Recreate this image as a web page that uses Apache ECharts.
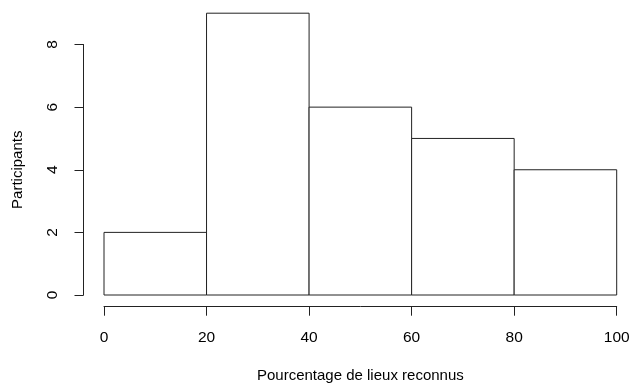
<!DOCTYPE html>
<html><head><meta charset="utf-8">
<script src="https://cdn.jsdelivr.net/npm/echarts@6/dist/echarts.min.js"></script>
<style>html,body{margin:0;padding:0;background:#fff}#c{width:631px;height:383px}</style>
</head><body><div id="c"></div>
<script>
const binEdges = [0, 20, 40, 60, 80, 100];
const counts = [2, 9, 6, 5, 4];
const xTicks = [0, 20, 40, 60, 80, 100];
const yTicks = [0, 2, 4, 6, 8];
const xTitle = 'Pourcentage de lieux reconnus';
const yTitle = 'Participants';

const rects = counts.map((c, i) => [binEdges[i], binEdges[i + 1], c]);
const font = 'Liberation Sans, Arial, sans-serif';
const ink = '#222';
const fs = 15.5;
const fsTitle = 15;
const nb = {containLabel: false, outerBoundsMode: 'none'};

const chart = echarts.init(document.getElementById('c'), null, {renderer: 'canvas'});
chart.setOption({
  animation: false,
  backgroundColor: '#fff',
  grid: [
    Object.assign({left: 104, right: 14.3, top: 13.2, bottom: 88}, nb),
    Object.assign({left: 104, right: 14.3, top: 200, bottom: 76.3}, nb),
    Object.assign({left: 83.5, width: 100, top: 44.5, bottom: 88}, nb)
  ],
  xAxis: [
    {type: 'value', gridIndex: 0, min: 0, max: 100, show: false},
    {type: 'value', gridIndex: 1, min: 0, max: 100, interval: 20,
     axisLine: {show: true, lineStyle: {color: ink, width: 1}},
     axisTick: {show: true, length: 9, lineStyle: {color: ink}},
     axisLabel: {color: '#000', fontSize: fs, fontFamily: font, margin: 23},
     splitLine: {show: false},
     name: xTitle, nameLocation: 'middle', nameGap: 62,
     nameTextStyle: {color: '#000', fontSize: fsTitle, fontFamily: font}},
    {type: 'value', gridIndex: 2, min: 0, max: 100, show: false}
  ],
  yAxis: [
    {type: 'value', gridIndex: 0, min: 0, max: 9, show: false},
    {type: 'value', gridIndex: 1, min: 0, max: 1, show: false},
    {type: 'value', gridIndex: 2, min: 0, max: 8, interval: 2,
     axisLine: {show: true, lineStyle: {color: ink, width: 1}},
     axisTick: {show: true, length: 9, lineStyle: {color: ink}},
     axisLabel: {color: '#000', fontSize: fs, fontFamily: font, rotate: 90, margin: 23},
     splitLine: {show: false},
     name: yTitle, nameLocation: 'middle', nameGap: 58,
     nameTextStyle: {color: '#000', fontSize: fsTitle, fontFamily: font}}
  ],
  series: [{
    type: 'custom', xAxisIndex: 0, yAxisIndex: 0,
    data: rects,
    renderItem: function (params, api) {
      const p0 = api.coord([api.value(0), api.value(2)]);
      const p1 = api.coord([api.value(1), 0]);
      return {type: 'rect',
        shape: {x: p0[0], y: p0[1], width: p1[0] - p0[0], height: p1[1] - p0[1]},
        style: {fill: '#fff', stroke: ink, lineWidth: 1}};
    }
  }]
});
</script></body></html>
